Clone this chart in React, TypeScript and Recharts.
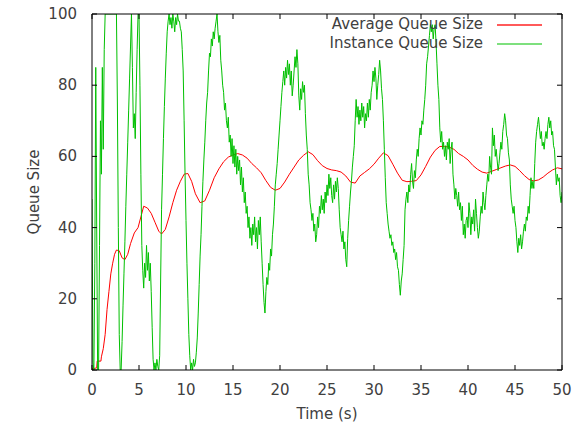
import React from 'react';
import { LineChart, Line, XAxis, YAxis, Legend } from 'recharts';

const FONT = '"DejaVu Sans", Verdana, sans-serif';
const TEXT_COLOR = '#404040';

const xTicks = [0, 5, 10, 15, 20, 25, 30, 35, 40, 45, 50];
const yTicks = [0, 20, 40, 60, 80, 100];

const seriesNames = ['Average Queue Size', 'Instance Queue Size'];
const seriesColors = ['#ff0000', '#00c000'];
const legendSwatchColors = ['#ff5a5a', '#7ee07e'];

// Average queue size: [time (s), value]
const averageQueue: [number, number][] = [
  [0, 0.3], [0.5, 0.6], [0.55, 2.5], [0.95, 2.5], [1.0, 3.7], [1.2, 6], [1.4, 10], [1.6, 17], [1.8, 22],
  [2.0, 27], [2.2, 30], [2.4, 32.5], [2.6, 33.7], [2.9, 33.5], [3.2, 31.5], [3.5, 31], [3.8, 32.5],
  [4.1, 35.5], [4.5, 38.5], [4.9, 40], [5.2, 43], [5.5, 46], [5.9, 45.5], [6.3, 44], [6.7, 41.5],
  [7.1, 39], [7.4, 38.2], [7.8, 39.5], [8.2, 43], [8.6, 47], [9.0, 50.5], [9.4, 53], [9.8, 55],
  [10.2, 55.2], [10.6, 53], [11.0, 49.5], [11.5, 47], [12.0, 47.5], [12.5, 50.5], [13.0, 54],
  [13.5, 56.5], [14.0, 58.5], [14.5, 59.8], [15.0, 60.4], [15.5, 60.8], [16.0, 60.4], [16.5, 59.5],
  [17.0, 58], [17.5, 56.8], [18.0, 55.4], [18.5, 53.2], [19.0, 51.3], [19.5, 50.5], [20.0, 51],
  [20.5, 52.8], [21.0, 55], [21.5, 57], [22.0, 59], [22.5, 60.3], [23.0, 61.3], [23.5, 60.5],
  [24.0, 58.8], [24.5, 57.4], [25.0, 56.6], [25.5, 56.2], [26.0, 56], [26.5, 55.6], [27.0, 54.5],
  [27.5, 52.8], [28.0, 52.5], [28.5, 54.5], [29.0, 55.5], [29.5, 56.5], [30.0, 57.8], [30.5, 59.5],
  [31.0, 61], [31.5, 60.2], [32.0, 57.8], [32.5, 55.3], [33.0, 53.3], [33.5, 52.9], [34.0, 53],
  [34.5, 53.2], [35.0, 54.8], [35.5, 57.2], [36.0, 59.8], [36.5, 61.7], [37.0, 62.8], [37.5, 62.8],
  [38.0, 62.6], [38.5, 62], [39.0, 60.8], [39.5, 60], [40.0, 59], [40.5, 57.5], [41.0, 56.4],
  [41.5, 55.6], [42.0, 55.3], [42.5, 55.8], [43.0, 56.3], [43.5, 56.8], [44.0, 57.3], [44.5, 57.6],
  [45.0, 57.2], [45.5, 56], [46.0, 54.6], [46.5, 53.5], [47.0, 53.1], [47.5, 53.4], [48.0, 54.2],
  [48.5, 55.3], [49.0, 56.2], [49.5, 56.8], [50.0, 56.5],
];

// Instance queue size, one row per second, samples every 0.1 s
const instanceQueueBySecond: number[][] = [
  [48, 2, 0, 30, 85, 40, 0, 0, 35, 70],
  [55, 85, 62, 90, 100, 100, 100, 100, 100, 100],
  [100, 100, 100, 100, 100, 100, 100, 75, 40, 10],
  [0, 0, 8, 18, 27, 36, 46, 55, 64, 73],
  [82, 91, 100, 85, 68, 72, 65, 78, 90, 100],
  [100, 80, 55, 35, 28, 23, 30, 26, 35, 28],
  [33, 25, 30, 22, 12, 3, 0, 2, 0, 3],
  [1, 0, 4, 25, 45, 55, 65, 74, 82, 89],
  [95, 98, 100, 97, 99, 96, 100, 98, 95, 99],
  [97, 100, 98, 98, 96, 95, 90, 84, 70, 55],
  [42, 30, 20, 10, 4, 0, 2, 0, 3, 1],
  [2, 5, 9, 16, 24, 32, 38, 46, 53, 59],
  [64, 70, 75, 78, 84, 89, 88, 93, 91, 95],
  [93, 96, 98, 100, 95, 92, 94, 87, 84, 80],
  [78, 73, 75, 70, 68, 71, 64, 66, 60, 65],
  [58, 63, 57, 62, 55, 60, 56, 59, 52, 57],
  [50, 54, 47, 50, 44, 46, 40, 43, 37, 40],
  [35, 41, 38, 43, 36, 40, 34, 42, 38, 43],
  [36, 30, 24, 19, 16, 22, 26, 24, 30, 28],
  [34, 32, 38, 41, 46, 52, 55, 58, 62, 66],
  [70, 74, 78, 81, 84, 80, 85, 82, 87, 83],
  [86, 80, 84, 77, 80, 84, 88, 85, 90, 86],
  [77, 73, 79, 76, 81, 78, 80, 72, 66, 62],
  [55, 52, 47, 45, 42, 44, 39, 41, 36, 38],
  [43, 40, 46, 44, 49, 45, 48, 44, 50, 47],
  [52, 49, 55, 51, 54, 49, 47, 52, 48, 53],
  [50, 54, 51, 45, 40, 38, 36, 39, 34, 36],
  [31, 29, 37, 42, 46, 50, 53, 57, 60, 63],
  [70, 76, 71, 74, 69, 73, 70, 75, 71, 74],
  [68, 72, 70, 75, 71, 76, 73, 78, 80, 84],
  [81, 85, 82, 76, 80, 83, 87, 84, 79, 76],
  [70, 62, 54, 47, 44, 41, 39, 37, 38, 35],
  [36, 33, 34, 31, 33, 29, 28, 24, 21, 25],
  [27, 31, 35, 45, 48, 50, 47, 52, 50, 55],
  [58, 53, 51, 56, 54, 59, 62, 60, 65, 68],
  [66, 70, 69, 73, 76, 80, 86, 88, 91, 94],
  [97, 95, 97, 93, 96, 97, 92, 86, 80, 76],
  [68, 64, 67, 62, 64, 60, 63, 59, 64, 62],
  [65, 58, 62, 64, 55, 52, 48, 51, 49, 46],
  [50, 45, 47, 42, 46, 38, 41, 37, 42, 43],
  [40, 47, 44, 38, 43, 41, 45, 39, 48, 44],
  [40, 37, 39, 43, 46, 44, 50, 47, 45, 49],
  [52, 55, 53, 60, 57, 55, 68, 63, 66, 60],
  [62, 59, 56, 58, 61, 64, 62, 67, 69, 72],
  [70, 66, 65, 61, 59, 52, 48, 46, 44, 46],
  [42, 40, 36, 33, 37, 35, 38, 34, 36, 39],
  [41, 39, 43, 42, 46, 44, 49, 54, 51, 53],
  [51, 58, 64, 67, 69, 71, 68, 65, 67, 63],
  [64, 62, 65, 67, 65, 69, 71, 68, 70, 66],
  [67, 63, 62, 57, 52, 55, 53, 54, 49, 47],
];
const instanceQueueLast = 50;

const averageData = averageQueue.map(([t, v]) => ({ t, v }));
const instanceData = [
  ...instanceQueueBySecond.flatMap((row, s) => row.map((v, i) => ({ t: s + i / 10, v }))),
  { t: 50, v: instanceQueueLast },
];

const TICK_LEN = 5;

const LeftTick = (props: any) => {
  const { x, y, payload } = props;
  const ax = x + 15;
  return (
    <g>
      <line x1={ax} x2={ax + TICK_LEN} y1={y} y2={y} stroke="#000" />
      <text x={x} y={y} textAnchor="end" dominantBaseline="central" fontFamily={FONT} fontSize={15} fill={TEXT_COLOR}>
        {payload.value}
      </text>
    </g>
  );
};

const RightTick = (props: any) => {
  const { x, y } = props;
  return <line x1={x} x2={x - TICK_LEN} y1={y} y2={y} stroke="#000" />;
};

const BottomTick = (props: any) => {
  const { x, y, payload } = props;
  const ay = y - 12;
  return (
    <g>
      <line x1={x} x2={x} y1={ay} y2={ay - TICK_LEN} stroke="#000" />
      <text x={x} y={y + 13} textAnchor="middle" fontFamily={FONT} fontSize={15} fill={TEXT_COLOR}>
        {payload.value}
      </text>
    </g>
  );
};

const TopTick = (props: any) => {
  const { x, y } = props;
  return <line x1={x} x2={x} y1={y} y2={y + TICK_LEN} stroke="#000" />;
};

const YLabel = (props: any) => {
  const vb = props.viewBox || {};
  const cx = vb.x + 34;
  const cy = vb.y + vb.height / 2;
  return (
    <text x={cx} y={cy} transform={`rotate(-90 ${cx} ${cy})`} textAnchor="middle" dominantBaseline="central"
      fontFamily={FONT} fontSize={15} fill={TEXT_COLOR}>
      Queue Size
    </text>
  );
};

const XLabel = (props: any) => {
  const vb = props.viewBox || {};
  return (
    <text x={vb.x + vb.width / 2} y={vb.y + 49} textAnchor="middle" fontFamily={FONT} fontSize={15} fill={TEXT_COLOR}>
      Time (s)
    </text>
  );
};

const renderLegend = () => (
  <div style={{ fontFamily: FONT, fontSize: 15, color: TEXT_COLOR }}>
    {seriesNames.map((name, i) => (
      <div key={name} style={{ display: 'flex', alignItems: 'center', justifyContent: 'flex-end', height: 19, lineHeight: '19px' }}>
        <span style={{ whiteSpace: 'nowrap' }}>{name}</span>
        <div style={{ marginLeft: 14, width: 45, height: 2, backgroundColor: legendSwatchColors[i] }} />
      </div>
    ))}
  </div>
);

export default function App() {
  return (
    <div style={{ position: 'absolute', left: 0, top: 0, width: 580, height: 427, background: '#fff' }}>
      <LineChart width={580} height={427} margin={{ top: 0, right: 0, bottom: 0, left: 0 }}>
        <XAxis xAxisId="bottom" dataKey="t" type="number" domain={[0, 50]} ticks={xTicks} interval={0}
          orientation="bottom" height={57} tickSize={0} tickMargin={12} tick={<BottomTick />}
          axisLine={{ stroke: '#000' }} tickLine={false} allowDataOverflow label={<XLabel />} />
        <XAxis xAxisId="top" dataKey="t" type="number" domain={[0, 50]} ticks={xTicks} interval={0}
          orientation="top" height={14} tickSize={0} tickMargin={0} tick={<TopTick />}
          axisLine={{ stroke: '#000' }} tickLine={false} allowDataOverflow />
        <YAxis yAxisId="left" type="number" domain={[0, 100]} ticks={yTicks} interval={0}
          orientation="left" width={92} tickSize={0} tickMargin={15} tick={<LeftTick />}
          axisLine={{ stroke: '#000' }} tickLine={false} allowDataOverflow label={<YLabel />} />
        <YAxis yAxisId="right" type="number" domain={[0, 100]} ticks={yTicks} interval={0}
          orientation="right" width={18} tickSize={0} tickMargin={0} tick={<RightTick />}
          axisLine={{ stroke: '#000' }} tickLine={false} allowDataOverflow />
        <Legend layout="vertical" align="center" verticalAlign="middle" content={renderLegend}
          wrapperStyle={{ top: 15, right: 38, left: 'auto', bottom: 'auto', width: 'auto' }} />
        <Line xAxisId="bottom" yAxisId="left" data={averageData} dataKey="v" name={seriesNames[0]} type="linear"
          stroke={seriesColors[0]} strokeWidth={1} dot={false} activeDot={false} isAnimationActive={false} />
        <Line xAxisId="bottom" yAxisId="left" data={instanceData} dataKey="v" name={seriesNames[1]} type="linear"
          stroke={seriesColors[1]} strokeWidth={1} dot={false} activeDot={false} isAnimationActive={false} />
      </LineChart>
    </div>
  );
}
